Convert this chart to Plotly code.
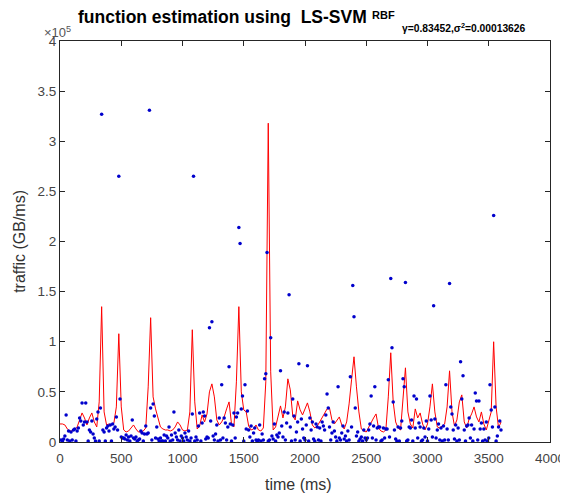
import plotly.graph_objects as go

# LS-SVM estimate, sampled every 20 ms
est_t = list(range(0, 3601, 20))
est_v = [
    0.18, 0.18, 0.17, 0.13, 0.11, 0.11, 0.12, 0.15, 0.22, 0.29, 0.24, 0.17, 0.24, 0.29, 0.20, 0.15, 0.40, 1.35, 0.30, 0.17,
    0.18, 0.17, 0.19, 0.35, 1.08, 0.35, 0.12, 0.10, 0.11, 0.14, 0.17, 0.13, 0.10, 0.10, 0.11, 0.14, 0.55, 1.24, 0.45, 0.33,
    0.25, 0.15, 0.13, 0.12, 0.12, 0.11, 0.12, 0.15, 0.20, 0.17, 0.12, 0.11, 0.12, 0.30, 1.12, 0.40, 0.13, 0.16, 0.27, 0.20,
    0.28, 0.50, 0.58, 0.45, 0.22, 0.17, 0.20, 0.25, 0.33, 0.40, 0.18, 0.15, 0.60, 1.35, 0.50, 0.32, 0.30, 0.16, 0.12, 0.13,
    0.17, 0.12, 0.11, 0.14, 0.60, 3.18, 0.70, 0.12, 0.15, 0.25, 0.36, 0.24, 0.35, 0.63, 0.52, 0.26, 0.22, 0.41, 0.32, 0.27,
    0.33, 0.39, 0.30, 0.17, 0.14, 0.16, 0.20, 0.24, 0.28, 0.33, 0.34, 0.22, 0.18, 0.22, 0.25, 0.17, 0.13, 0.20, 0.38, 0.62,
    0.85, 0.55, 0.30, 0.13, 0.11, 0.10, 0.15, 0.20, 0.24, 0.28, 0.14, 0.11, 0.10, 0.12, 0.45, 0.89, 0.40, 0.20, 0.14, 0.12,
    0.40, 0.74, 0.30, 0.18, 0.14, 0.33, 0.24, 0.29, 0.18, 0.12, 0.18, 0.35, 0.58, 0.30, 0.15, 0.14, 0.16, 0.18, 0.35, 0.71,
    0.30, 0.16, 0.22, 0.40, 0.47, 0.20, 0.14, 0.23, 0.28, 0.35, 0.25, 0.20, 0.30, 0.18, 0.12, 0.20, 0.30, 1.00, 0.35, 0.14, 0.20,
]

# measured traffic, every 10 ms
obs_t = list(range(10, 3601, 10))
obs_v = [
    0.02, 0.01, 0.03, 0.06, 0.27, 0.02, 0.11, 0.01, 0.10, 0.02, 0.12, 0.13, 0.01, 0.11, 0.14, 0.24, 0.21, 0.39, 0.17, 0.20,
    0.39, 0.20, 0.01, 0.12, 0.10, 0.21, 0.08, 0.04, 0.01, 0.23, 0.30, 0.01, 0.34, 3.27, 0.12, 0.10, 0.01, 0.14, 0.16, 0.11,
    0.17, 0.01, 0.18, 0.13, 0.15, 0.25, 0.12, 2.65, 0.43, 0.05, 0.04, 0.04, 0.03, 0.07, 0.02, 0.05, 0.01, 0.06, 0.22, 0.04,
    0.03, 0.05, 0.01, 0.02, 0.03, 0.11, 0.09, 0.01, 0.08, 0.16, 0.08, 0.09, 3.31, 0.34, 0.02, 0.38, 0.26, 0.04, 0.15, 0.03,
    0.01, 0.04, 0.01, 0.01, 0.07, 0.01, 0.06, 0.04, 0.15, 0.01, 0.07, 0.02, 0.30, 0.09, 0.05, 0.02, 0.12, 0.01, 0.06, 0.04,
    0.01, 0.09, 0.05, 0.02, 0.11, 0.01, 0.04, 0.28, 2.65, 0.01, 0.05, 0.02, 0.16, 0.29, 0.01, 0.19, 0.30, 0.26, 0.03, 0.05,
    0.04, 1.14, 0.21, 1.20, 0.06, 0.02, 0.08, 0.17, 0.01, 0.24, 0.02, 0.57, 0.04, 0.24, 0.19, 0.02, 0.15, 0.75, 0.18, 0.01,
    0.17, 0.29, 0.04, 0.25, 0.29, 2.14, 1.98, 0.33, 0.46, 0.01, 0.57, 0.13, 0.31, 0.12, 0.05, 0.16, 0.01, 0.09, 0.14, 0.02,
    0.01, 0.02, 0.17, 0.01, 0.08, 0.02, 0.63, 0.68, 1.89, 0.01, 0.02, 1.04, 0.06, 0.03, 0.18, 0.01, 0.07, 0.05, 0.09, 0.71,
    0.16, 0.05, 0.30, 0.02, 0.19, 0.29, 1.47, 0.15, 0.01, 0.43, 0.26, 0.02, 0.10, 0.20, 0.78, 0.01, 0.23, 0.13, 0.04, 0.02,
    0.17, 0.76, 0.01, 0.24, 0.12, 0.20, 0.03, 0.01, 0.18, 0.15, 0.02, 0.14, 0.01, 0.20, 0.16, 0.12, 0.27, 0.48, 0.34, 0.15,
    0.02, 0.09, 0.20, 0.11, 0.05, 0.01, 0.55, 0.04, 0.02, 0.09, 0.16, 0.03, 0.06, 0.01, 0.11, 0.02, 0.65, 0.15, 1.56, 1.25,
    0.34, 0.06, 0.10, 0.01, 0.03, 0.05, 0.01, 0.12, 0.04, 0.02, 0.04, 0.12, 0.18, 0.46, 0.04, 0.16, 0.55, 0.02, 0.14, 0.15,
    0.15, 0.01, 0.02, 0.14, 0.04, 0.13, 0.13, 0.62, 0.05, 1.63, 0.94, 0.40, 0.12, 0.03, 0.01, 0.15, 0.01, 0.14, 0.21, 0.63,
    0.55, 1.59, 0.01, 0.02, 0.15, 0.14, 0.22, 0.01, 0.46, 0.14, 0.43, 0.04, 0.19, 0.15, 0.01, 0.02, 0.14, 0.05, 0.21, 0.01,
    0.13, 0.46, 0.22, 0.05, 1.36, 0.23, 0.04, 0.12, 0.18, 0.02, 0.14, 0.01, 0.16, 0.02, 0.57, 0.13, 0.02, 1.58, 0.35, 0.28,
    0.12, 0.03, 0.17, 0.01, 0.14, 0.02, 0.80, 0.43, 0.66, 0.12, 0.01, 0.16, 0.17, 0.24, 0.04, 0.17, 0.01, 0.13, 0.49, 0.41,
    0.02, 0.41, 0.13, 0.19, 0.01, 0.13, 0.02, 0.20, 0.01, 0.04, 0.57, 0.32, 0.15, 2.26, 0.35, 0.01, 0.06, 0.15, 0.21, 0.12,
]

x_ticks = [0, 500, 1000, 1500, 2000, 2500, 3000, 3500, 4000]
y_ticks = [0, 0.5, 1, 1.5, 2, 2.5, 3, 3.5, 4]

FONT = "Liberation Sans"
AX = "#262626"

fig = go.Figure()
fig.add_trace(go.Scatter(x=est_t, y=est_v, mode="lines",
                         line=dict(color="#ff0000", width=1), showlegend=False))
fig.add_trace(go.Scatter(x=obs_t, y=obs_v, mode="markers",
                         marker=dict(color="#0000cc", size=3.5), showlegend=False))

axis_common = dict(showline=True, linecolor=AX, linewidth=1, mirror="ticks",
                   ticks="inside", ticklen=5, tickcolor=AX, showgrid=False,
                   zeroline=False, ticklabeloverflow="allow",
                   tickfont=dict(family=FONT, size=13.5, color="#444444"))
fig.update_xaxes(range=[0, 4000], tickvals=x_ticks, ticklabelstandoff=4, **axis_common)
fig.update_yaxes(range=[0, 4], tickvals=y_ticks, **axis_common)

fig.update_layout(
    width=568, height=493,
    margin=dict(l=52, r=11, t=33, b=59),
    plot_bgcolor="white", paper_bgcolor="white",
    font=dict(family=FONT),
    annotations=[
        dict(text="<b>function estimation using  LS-SVM</b>", xref="paper", yref="paper",
             x=0.630, y=1.061, xanchor="right", yanchor="middle", showarrow=False,
             font=dict(size=17.5, color="black")),
        dict(text="<b>RBF</b>", xref="paper", yref="paper",
             x=0.632, y=1.066, xanchor="left", yanchor="middle", showarrow=False,
             font=dict(size=11, color="black")),
        dict(text="<b>γ=0.83452,σ<sup>2</sup>=0.00013626</b>", xref="paper", yref="paper",
             x=0.694, y=1.033, xanchor="left", yanchor="middle", showarrow=False,
             font=dict(size=10.3, color="black")),
        dict(text="×10<sup>5</sup>", xref="paper", yref="paper",
             x=-0.036, y=1.022, xanchor="left", yanchor="middle", showarrow=False,
             font=dict(size=13, color="#555555")),
        dict(text="traffic (GB/ms)", xref="paper", yref="paper", textangle=-90,
             x=-0.083, y=0.50, xanchor="center", yanchor="middle", showarrow=False,
             font=dict(size=16, color="#333333")),
        dict(text="time (ms)", xref="paper", yref="paper",
             x=0.487, y=-0.107, xanchor="center", yanchor="middle", showarrow=False,
             font=dict(size=16, color="#333333")),
    ],
)

fig.write_html("out.html")
